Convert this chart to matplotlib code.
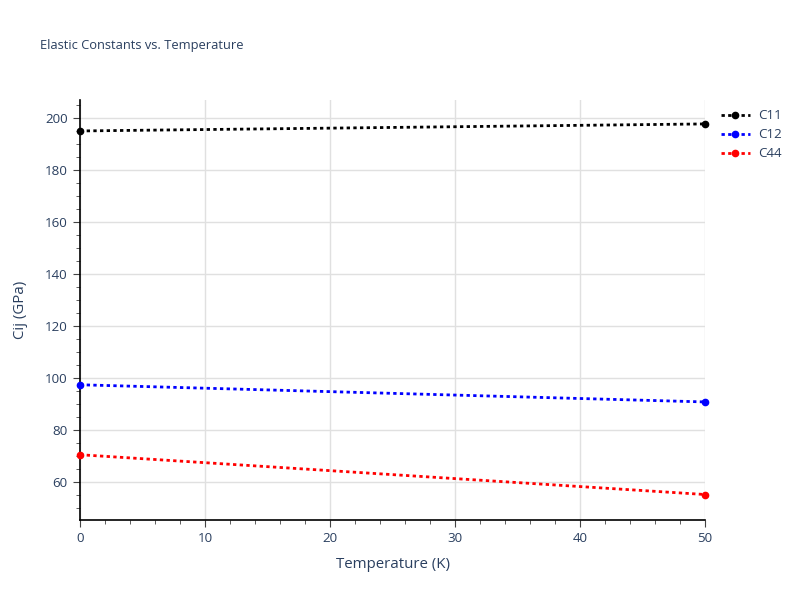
import matplotlib
matplotlib.use('Agg')
import matplotlib.pyplot as plt
from matplotlib.ticker import MultipleLocator

temperature = [0, 50]
c11 = [195.0, 197.7]
c12 = [97.4, 90.8]
c44 = [70.5, 55.2]

series = [("C11", c11, "black"), ("C12", c12, "blue"), ("C44", c44, "red")]

text_col = "#2a3f5f"
plt.rcParams['font.family'] = ['Open Sans', 'DejaVu Sans']

fig = plt.figure(figsize=(8, 6), dpi=100)
ax = fig.add_axes([80 / 800, 80 / 600, 625 / 800, 420 / 600])

for name, vals, col in series:
    ax.plot(temperature, vals, linestyle=(0, (1.2, 1.2)), linewidth=2, color=col,
            marker='o', markersize=4.5, label=name, clip_on=False, zorder=3)

ax.set_xlim(0, 50)
ax.set_ylim(45.4, 206.9)
ax.xaxis.set_major_locator(MultipleLocator(10))
ax.xaxis.set_minor_locator(MultipleLocator(2))
ax.yaxis.set_major_locator(MultipleLocator(20))
ax.yaxis.set_minor_locator(MultipleLocator(5))
ax.grid(True, which='major', color='#e0e0e0', linewidth=1)
ax.set_axisbelow(True)

for side in ['top', 'right']:
    ax.spines[side].set_visible(False)
for side in ['left', 'bottom']:
    ax.spines[side].set_color('black')
    ax.spines[side].set_linewidth(1.2)

ax.tick_params(which='major', direction='out', length=5, color='#444444',
               labelsize=9.6, labelcolor=text_col, pad=4)
ax.tick_params(which='minor', direction='out', length=3, color='#444444')

ax.set_xlabel("Temperature (K)", fontsize=10.8, color=text_col, labelpad=8)
ax.set_ylabel("Cij (GPa)", fontsize=10.8, color=text_col, labelpad=12)

fig.text(40 / 800, 1 - 46 / 600, "Elastic Constants vs. Temperature",
         fontsize=9.3, color=text_col, va='center', ha='left')

leg = ax.legend(loc='upper left', bbox_to_anchor=(1.01, 1.0), frameon=False,
                fontsize=9.6, labelcolor=text_col, handlelength=2.2,
                handletextpad=0.6, labelspacing=0.45, borderaxespad=0.3)

fig.savefig("out.png", dpi=100)
